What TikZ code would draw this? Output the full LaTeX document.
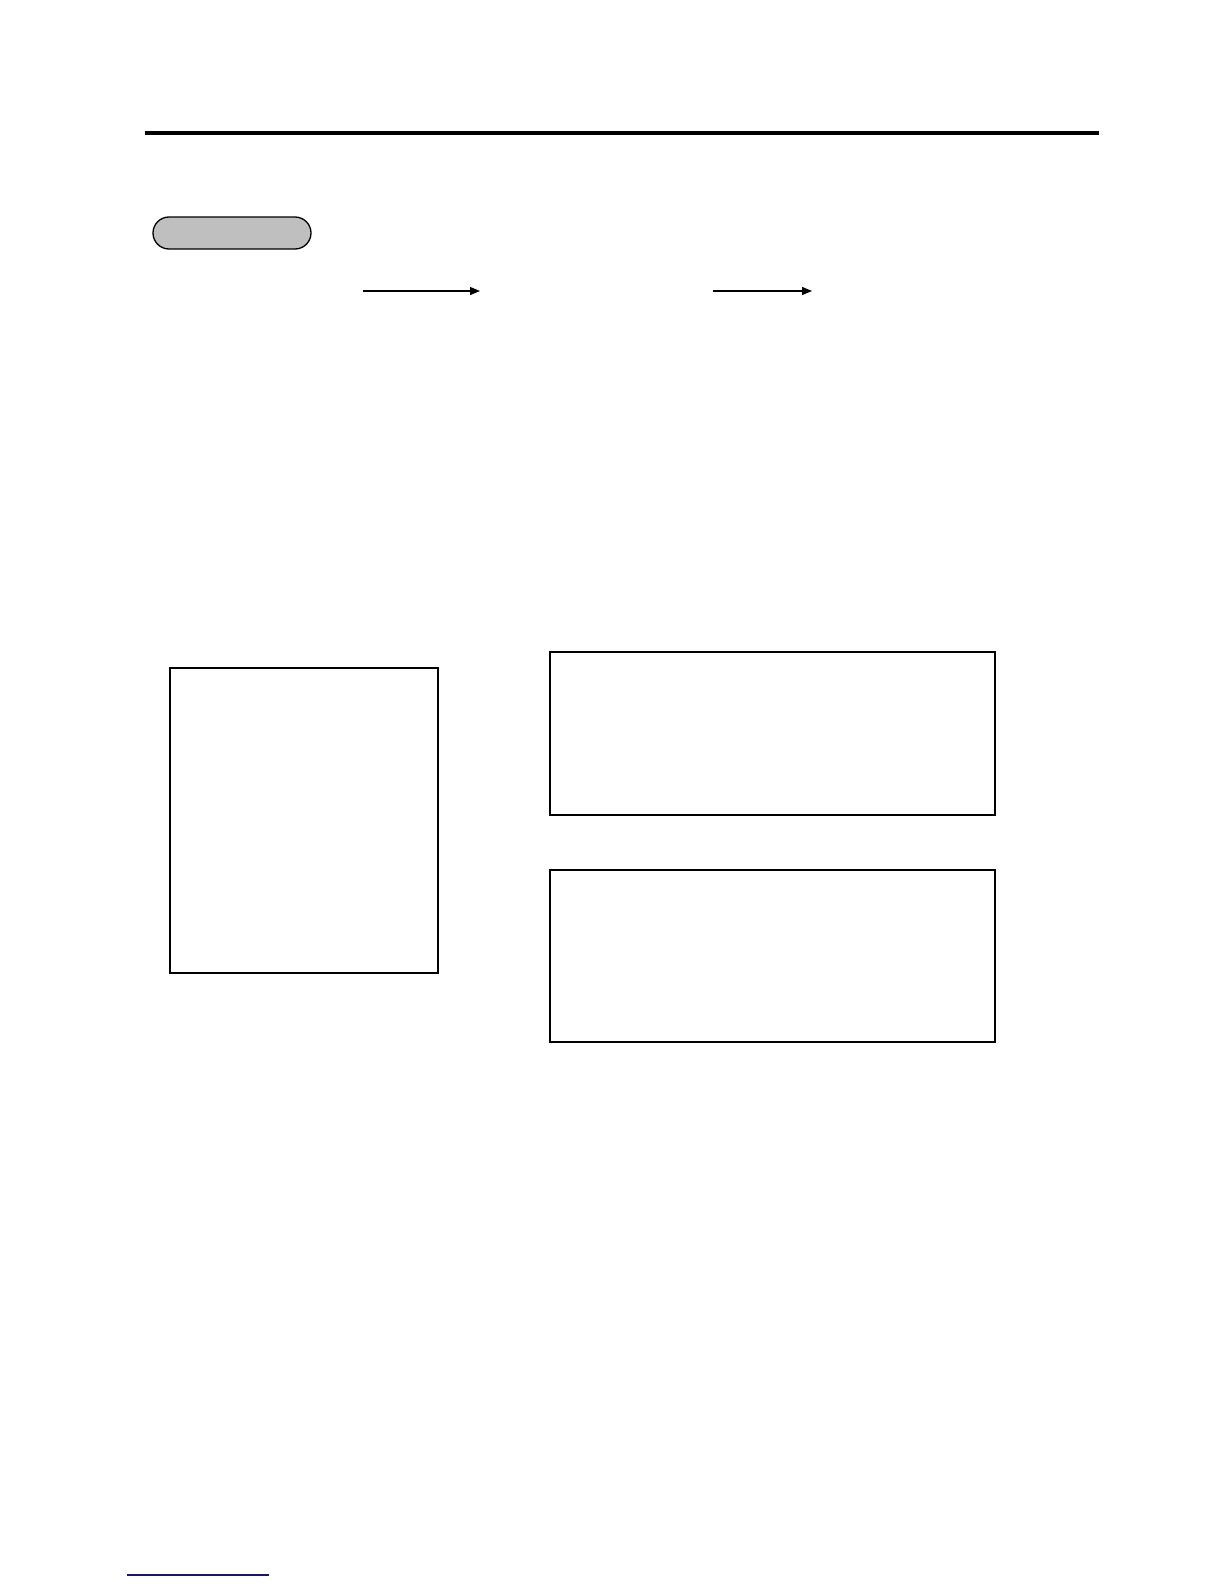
\documentclass[tikz,border=0pt]{standalone}
\usetikzlibrary{arrows.meta}
\begin{document}
\begin{tikzpicture}[x=1pt,y=-1pt,
  boxframe/.style={draw=black,line width=1.5pt,rectangle,inner sep=0pt,anchor=north west},
  pill/.style={draw=black,line width=1.3pt,fill=gray!50,rounded rectangle,inner sep=0pt},
  flowarrow/.style={line width=1.2pt,-{Triangle[length=10pt,width=8pt]}}]
\useasboundingbox[fill=white] (0,0) rectangle (1224,1584);
% top rule
\coordinate (ruleL) at (145,133);
\coordinate (ruleR) at (1099,133);
\draw[line width=4pt] (ruleL) -- (ruleR);
% pill
\node[draw=black,line width=1.3pt,fill=gray!50,rounded corners=16pt,minimum width=158pt,minimum height=32pt,inner sep=0pt] (pill) at (232,233) {};
% arrows
\coordinate (a1s) at (363,291);
\coordinate (a1e) at (480,291);
\draw[flowarrow] (a1s) -- (a1e);
\coordinate (a2s) at (713,291);
\coordinate (a2e) at (812,291);
\draw[flowarrow] (a2s) -- (a2e);
% boxes
\node[boxframe,minimum width=268pt,minimum height=305pt] (leftbox) at (169,667) {};
\node[boxframe,minimum width=445pt,minimum height=163pt] (rtop) at (549,651) {};
\node[boxframe,minimum width=445pt,minimum height=172pt] (rbot) at (549,869) {};
% blue underline
\coordinate (blL) at (127,1575);
\coordinate (blR) at (269,1575);
\draw[line width=1.3pt,color={rgb,255:red,20;green,20;blue,120}] (blL) -- (blR);
\end{tikzpicture}
\end{document}
